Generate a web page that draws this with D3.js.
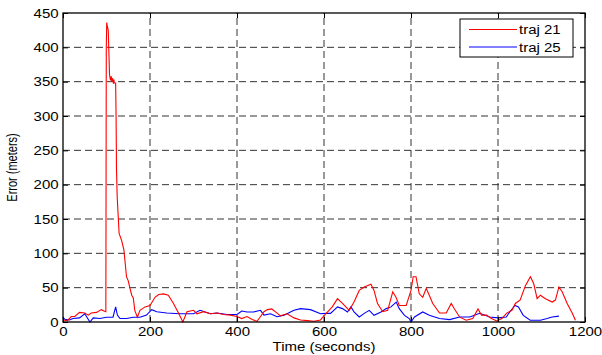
<!DOCTYPE html>
<html>
<head>
<meta charset="utf-8">
<script src="https://cdn.jsdelivr.net/npm/d3@7"></script>
<style>
  body { margin: 0; background: #fff; }
  text { font-family: "Liberation Sans", Arial, sans-serif; }
</style>
</head>
<body>
<script>
// traj 21 (red) - time in seconds, error in meters
const redTime = [0, 10, 19, 27, 38, 50, 58, 65, 77, 88, 94, 98.5, 99.5, 100.5, 102, 104, 107, 109, 111, 112, 114, 116, 117, 118, 121, 122, 123, 124.6, 129, 134.7, 140, 146, 150, 154, 158, 161.6, 165, 171, 177, 188.5, 200, 211.5, 220, 231, 242, 254, 265.5, 275.5, 285, 300, 308, 323, 339, 354, 369, 385, 400, 411, 423, 435, 446, 454, 462, 470, 480, 490, 500, 515, 531, 546, 562, 577, 592, 604, 619, 631, 642.5, 658, 669, 681, 692.5, 708, 715, 723, 735, 746.5, 758, 765.5, 773, 789, 800, 805, 811.5, 819, 827, 835, 842, 850, 865.5, 881, 892.5, 900, 912, 927, 942, 954, 962, 973.5, 985, 997, 1009, 1020, 1032, 1040, 1051, 1063, 1074.5, 1082, 1090, 1097.5, 1109, 1124.5, 1132, 1140, 1147.5, 1159, 1170.5, 1178];
const redVals = [3, 2, 8, 8, 14, 13, 10, 13, 14, 18, 16, 15, 400, 436, 430, 425, 360, 352, 358, 350, 355, 347, 353, 348, 348, 300, 221, 182, 129, 119, 105, 66, 60, 49, 39, 35, 17, 7, 17, 22, 24, 36, 40, 41, 39, 27, 13, 0, 15, 17, 12, 15, 12, 13, 11, 10, 8, 5, 8, 3.5, 1, 8, 15, 18, 19, 14, 9, 12, 6, 3, 2, 1, 3, 12, 22, 34, 27, 17, 29, 46, 51, 55, 46, 27, 15, 17, 44, 36, 24, 24, 46, 66, 66, 41, 36, 49, 39, 27, 13, 13, 27, 19, 7, 2.5, 5, 19, 10, 10, 5, 1.5, 5, 13, 17, 27, 32, 53, 66, 56, 34, 39, 34, 29, 32, 51, 44, 27, 13, 2.5];

// traj 25 (blue)
const blueTime = [0, 4, 15, 23, 38, 50, 55, 62, 69.5, 85, 100, 115, 121, 125, 131, 146, 161.6, 177, 192, 204, 215.5, 238.5, 269, 300, 315, 339, 354, 377, 400, 411, 423, 438, 454, 462, 477, 492, 508, 531, 546, 569, 592, 604, 615, 631, 642.5, 654, 662, 669, 681, 692.5, 704, 715, 731, 743, 754, 766, 773, 785, 796, 800, 808, 827, 842, 865.5, 888.6, 912, 935, 958, 981, 1000, 1019, 1027, 1039, 1047, 1058, 1074, 1097.5, 1113, 1124.5, 1140];
const blueVals = [7, 4, 3, 5, 6, 12, 7, 0, 6, 5, 7, 7, 22, 10, 5, 5, 7, 7, 10, 18, 15, 13, 12, 12, 17, 12, 13, 11, 11, 16, 14.6, 14.6, 17, 10, 12, 7.7, 10, 17, 19.5, 18, 12, 12.6, 12.6, 22, 19.5, 14.6, 22, 14.6, 7.3, 12.6, 17, 9.7, 14.6, 19.5, 22, 29, 19.5, 9.7, 5, 0, 7.3, 14.6, 9.7, 5, 3.5, 7.3, 7.3, 12.6, 7.3, 6, 7.3, 14.6, 24, 22, 9.7, 2.5, 2.5, 5, 7.3, 8.6];

const xTicks = [0, 200, 400, 600, 800, 1000, 1200];
const yTicks = [0, 50, 100, 150, 200, 250, 300, 350, 400, 450];
const seriesNames = ["traj 21", "traj 25"];
const seriesColors = ["#ff0000", "#0000ff"];

const W = 602, H = 355;
const margin = { top: 13, right: 17, bottom: 33, left: 63 };
const sx = 1.25; // picture is stretched sideways, text too

const svg = d3.select("body").append("svg")
  .attr("width", W)
  .attr("height", H);

const x = d3.scaleLinear().domain([0, 1200]).range([margin.left, W - margin.right]);
const y = d3.scaleLinear().domain([0, 450]).range([H - margin.bottom, margin.top]);

// grid
svg.append("g")
  .selectAll("line")
  .data(xTicks.slice(1, -1))
  .join("line")
  .attr("x1", (d) => x(d)).attr("x2", (d) => x(d))
  .attr("y1", y(0)).attr("y2", y(450))
  .attr("stroke", "#333").attr("stroke-dasharray", "7,4");
svg.append("g")
  .selectAll("line")
  .data(yTicks.slice(1, -1))
  .join("line")
  .attr("x1", x(0)).attr("x2", x(1200))
  .attr("y1", (d) => y(d)).attr("y2", (d) => y(d))
  .attr("stroke", "#333").attr("stroke-dasharray", "7,4");

// lines
const line = d3.line().x((d) => x(d[0])).y((d) => y(d[1]));
const red = redTime.map((t, i) => [t, redVals[i]]);
const blue = blueTime.map((t, i) => [t, blueVals[i]]);

svg.append("path").datum(blue)
  .attr("d", line).attr("fill", "none")
  .attr("stroke", seriesColors[1]).attr("stroke-width", 1.1);
svg.append("path").datum(red)
  .attr("d", line).attr("fill", "none")
  .attr("stroke", seriesColors[0]).attr("stroke-width", 1.1);

// axes (ticks inward like matlab)
const fontSize = 12;
const gx = svg.append("g")
  .attr("transform", `translate(0,${y(0)})`)
  .call(d3.axisBottom(x).tickValues(xTicks).tickFormat(d3.format("d"))
    .tickSize(-5).tickPadding(0).tickSizeOuter(0));
gx.selectAll("text")
  .attr("y", 5)
  .attr("transform", `scale(${sx},1)`);
const gy = svg.append("g")
  .attr("transform", `translate(${x(0)},0)`)
  .call(d3.axisLeft(y).tickValues(yTicks).tickSize(-5).tickSizeOuter(0));
gy.selectAll("text")
  .attr("x", -3.5)
  .attr("dy", "0.36em")
  .attr("transform", `scale(${sx},1)`);
svg.append("g")
  .attr("transform", `translate(0,${y(450)})`)
  .call(d3.axisTop(x).tickValues(xTicks).tickSize(-5).tickFormat("").tickSizeOuter(0));
svg.append("g")
  .attr("transform", `translate(${x(1200)},0)`)
  .call(d3.axisRight(y).tickValues(yTicks).tickSize(-5).tickFormat("").tickSizeOuter(0));

svg.selectAll(".domain").remove();
svg.selectAll(".tick line").attr("stroke", "#000");
svg.selectAll(".tick text")
  .attr("fill", "#000")
  .style("font-size", fontSize + "px")
  .style("font-family", "Liberation Sans, Arial, sans-serif");

// frame
svg.append("rect")
  .attr("x", x(0)).attr("y", y(450))
  .attr("width", x(1200) - x(0)).attr("height", y(0) - y(450))
  .attr("fill", "none").attr("stroke", "#000").attr("stroke-width", 1.3);

// axis labels
svg.append("text")
  .attr("transform", `translate(${(x(0) + x(1200)) / 2},${H - 4}) scale(${sx},1)`)
  .attr("text-anchor", "middle")
  .style("font-size", "12px")
  .text("Time (seconds)");
svg.append("text")
  .attr("transform", `translate(17,${(y(0) + y(450)) / 2}) scale(${sx},1) rotate(-90)`)
  .attr("text-anchor", "middle")
  .style("font-size", "11px")
  .text("Error (meters)");

// legend
const lg = svg.append("g").attr("transform", "translate(460,19)");
lg.append("rect")
  .attr("width", 113).attr("height", 38)
  .attr("fill", "#fff").attr("stroke", "#000").attr("stroke-width", 1);
seriesNames.forEach((name, i) => {
  const ly = 10.5 + i * 17.5;
  lg.append("line")
    .attr("x1", 9).attr("x2", 57)
    .attr("y1", ly).attr("y2", ly)
    .attr("stroke", seriesColors[i]);
  lg.append("text")
    .attr("transform", `translate(59,${ly + 4.5}) scale(${sx},1)`)
    .style("font-size", "12px")
    .text(name);
});
</script>
</body>
</html>
